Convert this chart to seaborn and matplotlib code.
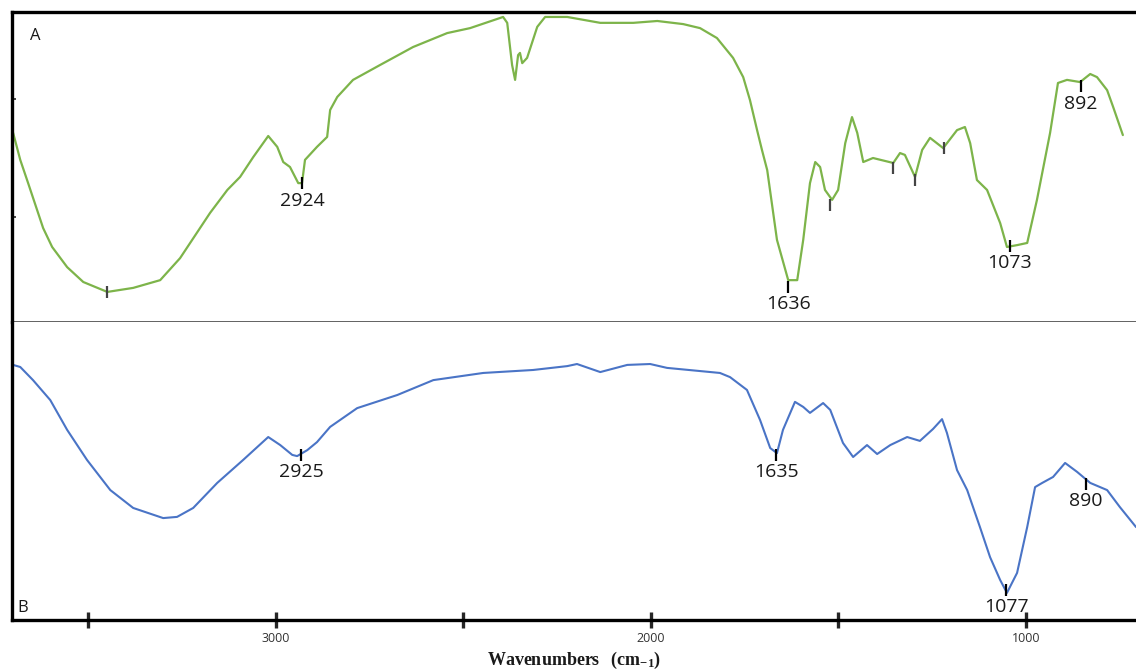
#!/usr/bin/env python3
"""FTIR spectra of two samples (A, B) stacked on a shared wavenumber axis."""

import matplotlib
matplotlib.use("Agg")
import matplotlib.pyplot as plt
import seaborn as sns

sns.set_theme(style="white")
plt.rcParams['font.family'] = ['Open Sans', 'DejaVu Sans']
plt.rcParams['mathtext.fontset'] = 'custom'
plt.rcParams['mathtext.rm'] = 'Liberation Serif:bold'
plt.rcParams['mathtext.bf'] = 'Liberation Serif:bold'

# Spectrum A (green) - wavenumber (cm-1) / relative transmittance (%)
a_wave = [3700, 3681, 3660, 3620, 3596, 3556, 3513, 3449, 3380, 3308,
          3255, 3175, 3129, 3095, 3060, 3020, 2996, 2980, 2962, 2940,
          2930, 2922, 2890, 2863, 2855, 2836, 2794, 2722, 2634, 2543,
          2482, 2394, 2383, 2370, 2362, 2354, 2349, 2343, 2330, 2303,
          2282, 2223, 2135, 2047, 1983, 1914, 1869, 1824, 1781, 1754,
          1736, 1717, 1704, 1690, 1664, 1634, 1610, 1594, 1576, 1562,
          1549, 1536, 1517, 1501, 1482, 1464, 1450, 1434, 1408, 1354,
          1336, 1323, 1296, 1277, 1256, 1221, 1184, 1163, 1149, 1131,
          1104, 1069, 1051, 1024, 997, 971, 936, 915, 891, 856,
          829, 811, 784, 768, 742]
a_trans = [61.0, 52.3, 44.8, 30.3, 24.2, 17.7, 12.9, 9.7, 11.0, 13.5,
           20.6, 35.2, 42.6, 46.8, 53.2, 60.0, 56.5, 51.6, 50.0, 44.8,
           44.8, 52.3, 56.5, 59.7, 68.4, 72.6, 78.1, 82.9, 88.7, 93.2,
           94.8, 98.4, 96.5, 82.9, 78.1, 86.1, 86.8, 83.5, 85.2, 95.2,
           98.4, 98.4, 96.5, 96.5, 97.1, 96.1, 94.8, 91.6, 85.2, 79.0,
           71.6, 61.9, 55.5, 49.0, 26.5, 13.5, 13.5, 26.5, 44.8, 51.6,
           50.0, 42.6, 39.4, 42.6, 57.7, 66.1, 61.0, 51.6, 52.9, 51.3,
           54.5, 53.9, 46.8, 55.5, 59.4, 56.1, 61.9, 62.9, 57.7, 45.8,
           42.6, 31.9, 24.2, 24.8, 25.5, 39.4, 61.0, 77.1, 78.1, 77.4,
           80.0, 79.0, 74.8, 69.4, 60.3]

# Spectrum B (blue)
b_wave = [3700, 3681, 3647, 3601, 3556, 3503, 3441, 3380, 3300, 3263,
          3220, 3156, 3087, 3020, 2988, 2956, 2943, 2916, 2890, 2855,
          2783, 2676, 2580, 2447, 2314, 2223, 2197, 2135, 2063, 2002,
          1957, 1816, 1789, 1744, 1709, 1682, 1664, 1648, 1616, 1594,
          1576, 1541, 1522, 1488, 1461, 1424, 1397, 1362, 1317, 1283,
          1248, 1224, 1211, 1184, 1157, 1123, 1096, 1069, 1051, 1024,
          997, 976, 957, 928, 896, 864, 829, 784, 750, 707]
b_trans = [85.6, 84.9, 80.5, 73.8, 63.8, 53.7, 43.6, 37.6, 34.2, 34.6,
           37.6, 46.0, 53.7, 61.4, 58.7, 55.4, 55.0, 57.0, 59.7, 64.8,
           71.1, 75.5, 80.5, 82.9, 83.9, 85.2, 85.9, 83.2, 85.6, 85.9,
           84.6, 82.9, 81.5, 77.2, 67.1, 57.7, 56.0, 63.8, 73.2, 71.5,
           69.5, 72.8, 70.5, 59.4, 54.7, 58.7, 55.7, 58.7, 61.4, 60.1,
           64.1, 67.4, 62.8, 50.3, 43.6, 31.2, 21.1, 13.4, 9.1, 15.8,
           31.2, 44.6, 46.0, 48.0, 52.7, 49.7, 46.0, 43.6, 37.9, 31.2]

# Peak markers (labelled and unlabelled)
a_peak_wave = [2930, 1634, 1043, 853]
a_peak_trans = [44.7, 11.3, 24.5, 76.0]
a_peak_labels = ['2924', '1636', '1073', '892']
a_minor_wave = [3449, 1522, 1354, 1296, 1219]
a_minor_trans = [9.8, 37.6, 49.7, 45.8, 56.1]

b_peak_wave = [2932, 1666, 1053, 840]
b_peak_trans = [55.4, 55.4, 10.1, 45.6]
b_peak_labels = ['2925', '1635', '1077', '890']

x_ticks = [3500, 3000, 2500, 2000, 1500, 1000]
x_tick_labels = ['', '3000', '', '2000', '', '1000']
a_y_ticks = [72, 34]

W, H = 1136, 670
fig = plt.figure(figsize=(W / 100, H / 100), dpi=100)
ax_a = fig.add_axes([12 / W, (H - 322) / H, 1124 / W, 310 / H])
ax_b = fig.add_axes([12 / W, (H - 620) / H, 1124 / W, 298 / H])

sns.lineplot(x=a_wave, y=a_trans, ax=ax_a, color='#7db44a', lw=1.6,
             sort=False, estimator=None)
sns.lineplot(x=b_wave, y=b_trans, ax=ax_b, color='#4a74c6', lw=1.5,
             sort=False, estimator=None)
for ax in (ax_a, ax_b):
    for ln in ax.get_lines():
        ln.set_solid_joinstyle('round')


def mark_peaks(ax, waves, trans, labels, color='black'):
    ax.plot(waves, trans, ls='none', marker='|', ms=9, mew=1.6, color=color)
    for w, t, lab in zip(waves, trans, labels):
        if lab:
            ax.annotate(lab, (w, t), xytext=(0, -6), textcoords='offset points',
                        ha='center', va='top', fontsize=14, color='#1a1a1a')


mark_peaks(ax_a, a_peak_wave, a_peak_trans, a_peak_labels)
mark_peaks(ax_a, a_minor_wave, a_minor_trans, [''] * len(a_minor_wave), color='#444444')
mark_peaks(ax_b, b_peak_wave, b_peak_trans, b_peak_labels)

for ax in (ax_a, ax_b):
    ax.set_xlim(3703, 707)
    ax.set_ylim(0, 100)
    ax.spines['right'].set_visible(False)
    ax.spines['left'].set_linewidth(2.4)
    ax.spines['left'].set_color('black')

# top panel
ax_a.spines['top'].set_linewidth(2.4)
ax_a.spines['top'].set_color('black')
ax_a.spines['bottom'].set_linewidth(1.3)
ax_a.spines['bottom'].set_color('#555555')
ax_a.set_xticks([])
ax_a.set_yticks(a_y_ticks)
ax_a.set_yticklabels([])
ax_a.tick_params(axis='y', direction='in', length=3, width=1.2, left=True)
ax_a.text(0.016, 0.95, 'A', transform=ax_a.transAxes, ha='left', va='top',
          fontsize=12, color='#1a1a1a')

# bottom panel
ax_b.spines['top'].set_visible(False)
ax_b.spines['bottom'].set_linewidth(2.4)
ax_b.spines['bottom'].set_color('black')
ax_b.set_yticks([])
ax_b.set_xticks(x_ticks)
ax_b.set_xticklabels(x_tick_labels)
ax_b.tick_params(axis='x', direction='inout', length=11, width=2.4,
                 bottom=True, labelsize=9, labelcolor='#333333', pad=3)
ax_b.text(0.005, 0.015, 'B', transform=ax_b.transAxes, ha='left', va='bottom',
          fontsize=12, color='#1a1a1a')
ax_b.set_xlabel(r'$\mathrm{Wavenumbers\ \ (cm_{-1})}$', fontsize=13,
                labelpad=4, color='#1a1a1a')

fig.savefig('out.png', dpi=100)
